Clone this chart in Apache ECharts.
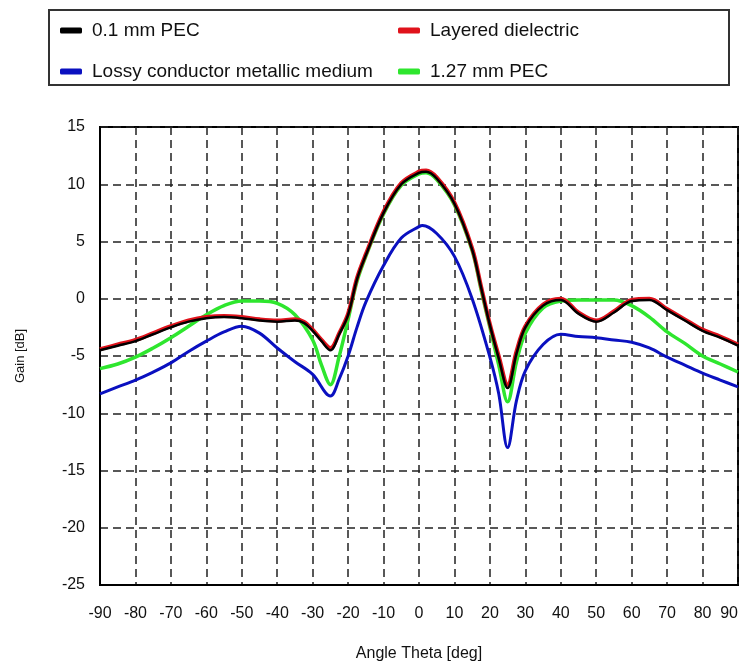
<!DOCTYPE html>
<html>
<head>
<meta charset="utf-8">
<script src="https://cdn.jsdelivr.net/npm/echarts@6/dist/echarts.min.js"></script>
<style>
html,body{margin:0;padding:0;background:#fff;}
#chart{width:742px;height:671px;}
</style>
</head>
<body>
<div id="chart"></div>
<script>
// Angles (deg) at which values were read
const anglesPEC = [-90,-85,-80,-75,-70,-65,-60,-55,-50,-45,-40,-35,-32.5,-30,-27.5,-25,-22.5,-20,-17.5,-15,-10,-5,0,2,5,10,15,17.5,20,22.5,25,27.5,30,35,40,45,50,55,60,65,70,75,80,85,90];
const pec01 = [-4.5,-4.1,-3.7,-3.1,-2.5,-2.0,-1.7,-1.6,-1.7,-1.9,-2.0,-1.9,-2.1,-2.8,-3.7,-4.5,-3.1,-1.4,1.7,3.8,7.5,10.0,11.0,11.1,10.5,8.3,4.3,1.0,-2.3,-5.2,-7.8,-4.8,-2.5,-0.6,-0.1,-1.3,-2.0,-1.2,-0.2,-0.1,-1.0,-1.9,-2.8,-3.4,-4.1];
const layered = [-4.4,-4.0,-3.6,-3.0,-2.4,-1.9,-1.6,-1.5,-1.6,-1.8,-1.9,-1.8,-2.0,-2.7,-3.6,-4.3,-3.0,-1.3,1.8,3.9,7.6,10.1,11.1,11.2,10.6,8.4,4.4,1.1,-2.2,-5.0,-7.5,-4.6,-2.4,-0.5,0.0,-1.2,-1.9,-1.1,-0.1,0.0,-0.9,-1.8,-2.7,-3.3,-4.0];
const anglesLossy = [-90,-85,-80,-75,-70,-65,-60,-55,-50,-45,-40,-35,-30,-25,-22.5,-20,-17.5,-15,-10,-5,0,1,5,10,15,20,22.5,25,27.5,30,35,40,45,50,55,60,65,70,75,80,85,90];
const lossy = [-8.3,-7.7,-7.1,-6.4,-5.6,-4.6,-3.7,-2.9,-2.4,-3.0,-4.3,-5.5,-6.6,-8.5,-7.0,-5.0,-2.5,-0.3,2.9,5.3,6.3,6.4,5.7,3.7,0.0,-5.1,-8.3,-13.0,-8.9,-6.3,-4.0,-3.1,-3.3,-3.4,-3.6,-3.8,-4.3,-5.1,-5.8,-6.5,-7.1,-7.7];
const angles127 = [-90,-85,-80,-75,-70,-65,-60,-55,-50,-45,-40,-35,-30,-27.5,-25,-22.5,-20,-17.5,-15,-10,-5,0,2,5,10,15,17.5,20,22.5,25,27.5,30,35,40,45,50,55,60,65,70,75,80,85,90];
const pec127 = [-6.1,-5.7,-5.1,-4.3,-3.4,-2.4,-1.4,-0.6,-0.2,-0.2,-0.4,-1.4,-3.6,-5.8,-7.5,-5.0,-1.8,1.5,3.7,7.4,9.9,10.9,11.0,10.4,8.2,4.2,0.8,-2.5,-5.8,-9.0,-5.5,-3.0,-0.8,-0.2,-0.1,-0.1,-0.1,-0.6,-1.6,-2.9,-3.9,-5.0,-5.7,-6.4];

const names = ['0.1 mm PEC','Layered dielectric','Lossy conductor metallic medium','1.27 mm PEC'];
const colors = {'0.1 mm PEC':'#000000','Layered dielectric':'#e0121b','Lossy conductor metallic medium':'#0a10c0','1.27 mm PEC':'#2ee62e'};

function pairs(xs, ys){ return xs.map((x,i)=>[x, ys[i]]); }

const FONT = 'Liberation Sans';
const chart = echarts.init(document.getElementById('chart'), null, {renderer:'canvas'});

function mkSeries(name, data, width){
  return {
    name, type:'line', data, smooth:0.35, showSymbol:false, symbol:'none',
    lineStyle:{color:colors[name], width}, itemStyle:{color:colors[name]},
    animation:false
  };
}

const legendText = {fontFamily:FONT, fontSize:19, color:'#111', padding:[0,0,0,5]};

chart.setOption({
  animation:false,
  backgroundColor:'#ffffff',
  textStyle:{fontFamily:FONT},
  graphic:[{
    type:'rect', left:48, top:9,
    shape:{width:680, height:75},
    style:{fill:'#ffffff', stroke:'#333333', lineWidth:2},
    z:-1
  }],
  legend:[{
    data:[names[0], names[2]], orient:'vertical', left:60, top:21,
    itemWidth:22, itemHeight:6, itemGap:22, icon:'roundRect', padding:0,
    textStyle:legendText
  },{
    data:[names[1], names[3]], orient:'vertical', left:398, top:21,
    itemWidth:22, itemHeight:6, itemGap:22, icon:'roundRect', padding:0,
    textStyle:legendText
  }],
  grid:{left:100, right:4, top:127, bottom:86, show:true, borderColor:'#000', borderWidth:2, backgroundColor:'#fff', outerBoundsMode:'none', containLabel:false},
  xAxis:{
    type:'value', min:-90, max:90, interval:10,
    name:'Angle Theta [deg]', nameLocation:'middle', nameGap:61,
    nameTextStyle:{fontFamily:FONT, fontSize:16, color:'#111'},
    axisLine:{show:true, onZero:false, lineStyle:{color:'#000', width:2}},
    axisTick:{show:false},
    axisLabel:{fontFamily:FONT, fontSize:16, color:'#111', margin:21, alignMaxLabel:'right'},
    splitLine:{show:true, lineStyle:{color:'#222', width:1.5, type:[8,5]}}
  },
  yAxis:{
    type:'value', min:-25, max:15, interval:5,
    name:'Gain [dB]', nameLocation:'middle', nameGap:73,
    nameTextStyle:{fontFamily:FONT, fontSize:13, color:'#111'},
    axisLine:{show:true, onZero:false, lineStyle:{color:'#000', width:2}},
    axisTick:{show:false},
    axisLabel:{fontFamily:FONT, fontSize:16, color:'#111', margin:15},
    splitLine:{show:true, lineStyle:{color:'#222', width:1.5, type:[8,5]}}
  },
  series:[
    mkSeries('1.27 mm PEC', pairs(angles127, pec127), 3.5),
    mkSeries('Lossy conductor metallic medium', pairs(anglesLossy, lossy), 3),
    mkSeries('Layered dielectric', pairs(anglesPEC, layered), 4),
    mkSeries('0.1 mm PEC', pairs(anglesPEC, pec01), 2.5)
  ]
});
</script>
</body>
</html>
